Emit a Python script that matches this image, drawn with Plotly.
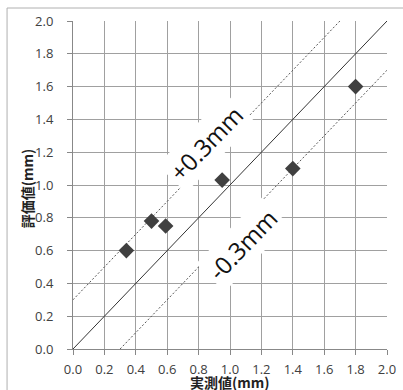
import plotly.graph_objects as go

measured = [0.34, 0.50, 0.59, 0.95, 1.40, 1.80]
evaluated = [0.60, 0.78, 0.75, 1.03, 1.10, 1.60]

ref_x = [0.0, 2.0]
ref_y = [0.0, 2.0]
upper_x = [0.0, 1.7]
upper_y = [0.3, 2.0]
lower_x = [0.3, 2.0]
lower_y = [0.0, 1.7]

tick_vals = [0.0, 0.2, 0.4, 0.6, 0.8, 1.0, 1.2, 1.4, 1.6, 1.8, 2.0]
tick_text = ["0.0", "0.2", "0.4", "0.6", "0.8", "1.0", "1.2", "1.4", "1.6", "1.8", "2.0"]

fig = go.Figure()
fig.add_trace(go.Scatter(x=ref_x, y=ref_y, mode="lines",
                         line=dict(color="#333333", width=1), showlegend=False))
fig.add_trace(go.Scatter(x=upper_x, y=upper_y, mode="lines",
                         line=dict(color="#555555", width=1, dash="2px,2px"), showlegend=False))
fig.add_trace(go.Scatter(x=lower_x, y=lower_y, mode="lines",
                         line=dict(color="#555555", width=1, dash="2px,2px"), showlegend=False))
fig.add_trace(go.Scatter(x=measured, y=evaluated, mode="markers",
                         marker=dict(symbol="diamond", size=12, color="#404040"),
                         showlegend=False))

tick_font = dict(family="Open Sans, Noto Sans", size=13, color="#404040")
fig.update_xaxes(range=[0, 2.0], tickvals=tick_vals, ticktext=tick_text,
                 showgrid=True, gridcolor="#a0a0a0", gridwidth=1,
                 showline=True, linecolor="#888888", linewidth=1,
                 ticks="outside", ticklen=5, tickcolor="#888888",
                 tickfont=tick_font, zeroline=False, automargin=False,
                 ticklabelstandoff=3)
fig.update_yaxes(range=[0, 2.0], tickvals=tick_vals, ticktext=tick_text,
                 showgrid=True, gridcolor="#a0a0a0", gridwidth=1,
                 showline=True, linecolor="#888888", linewidth=1,
                 ticks="outside", ticklen=5, tickcolor="#888888",
                 tickfont=tick_font, zeroline=False, automargin=False,
                 ticklabelstandoff=11)

fig.add_annotation(xref="paper", yref="paper", x=0.5, y=0, yshift=-33,
                   xanchor="center", yanchor="middle",
                   text="<b>実測値(mm)</b>", showarrow=False,
                   font=dict(family="Noto Sans CJK JP", size=14, color="#222222"))
fig.add_annotation(xref="paper", yref="paper", x=0, xshift=-46, y=0.49,
                   xanchor="center", yanchor="middle",
                   text="<b>評価値(mm)</b>", showarrow=False, textangle=-90,
                   font=dict(family="Noto Sans CJK JP", size=14, color="#222222"))

fig.add_annotation(x=0.845, y=1.255, text="+0.3mm", showarrow=False, textangle=-46,
                   font=dict(family="Open Sans", size=24, color="#111111"),
                   bgcolor="white", borderpad=3)
fig.add_annotation(x=1.08, y=0.635, text="-0.3mm", showarrow=False, textangle=-46,
                   font=dict(family="Open Sans", size=24, color="#111111"),
                   bgcolor="white", borderpad=3)

fig.add_shape(type="rect", xref="paper", yref="paper",
              x0=-0.210, y0=-0.2, x1=1.1, y1=1.0396,
              line=dict(color="#b0b0b0", width=1), layer="below")

fig.update_layout(width=403, height=390,
                  margin=dict(l=73, r=16, t=21, b=41, autoexpand=False),
                  paper_bgcolor="white", plot_bgcolor="white")
fig.write_html("out.html", config={"displayModeBar": False},
               post_script="document.body.style.margin='0';document.body.style.overflow='hidden';")
